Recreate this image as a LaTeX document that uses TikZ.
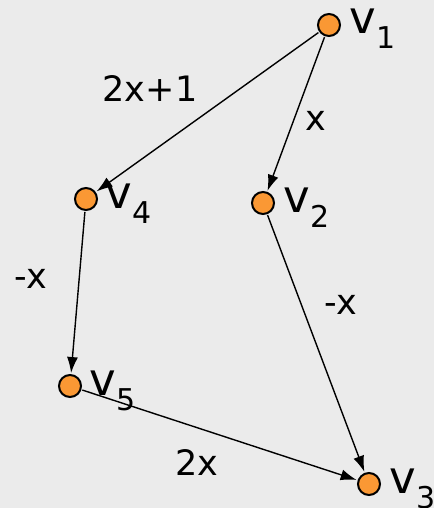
\documentclass[tikz,border=0pt]{standalone}
\usepackage{fontspec}
\setmainfont{DejaVu Sans}
\usetikzlibrary{arrows.meta}
\definecolor{bg}{RGB}{235,235,235}
\definecolor{vorange}{RGB}{250,152,52}
\tikzset{
  vert/.style={circle,draw=black,line width=2pt,fill=vorange,minimum size=22pt,inner sep=0pt,outer sep=2pt},
  vlabel/.style={anchor=base west,inner sep=0pt,font=\fontsize{45}{45}\selectfont},
  elabel/.style={inner sep=0pt,font=\fontsize{35}{35}\selectfont},
  edge/.style={line width=1.4pt,-{Latex[length=16pt,width=11pt]}}
}
\newcommand{\vsub}[1]{\kern1pt\raisebox{-15pt}{\fontsize{30}{30}\selectfont #1}}
\begin{document}
\begin{tikzpicture}[x=1pt,y=-1pt]
\fill[bg] (0,0) rectangle (434,508);
\useasboundingbox (0,0) rectangle (434,508);
\node[vert] (v1) at (329,25) {};
\node[vert] (v2) at (263,203) {};
\node[vert] (v3) at (369,484) {};
\node[vert] (v4) at (86,199) {};
\node[vert] (v5) at (70,386) {};
\node[vlabel] (l1) at (349,34) {v\vsub{1}};
\node[vlabel] (l2) at (283,212) {v\vsub{2}};
\node[vlabel] (l3) at (389,493) {v\vsub{3}};
\node[vlabel] (l4) at (105,208) {v\vsub{4}};
\node[vlabel] (l5) at (89,395) {v\vsub{5}};
\draw[edge] (v1) -- (v4);
\draw[edge] (v1) -- (v2);
\draw[edge] (v4) -- (v5);
\draw[edge] (v2) -- (v3);
\draw[edge] (v5) -- (v3);
\node[elabel] (e14) at (150,89) {2x+1};
\node[elabel] (e12) at (316,121) {x};
\node[elabel] (e45) at (31,279) {-x};
\node[elabel] (e23) at (341,305) {-x};
\node[elabel] (e53) at (197,463) {2x};
\end{tikzpicture}
\end{document}
